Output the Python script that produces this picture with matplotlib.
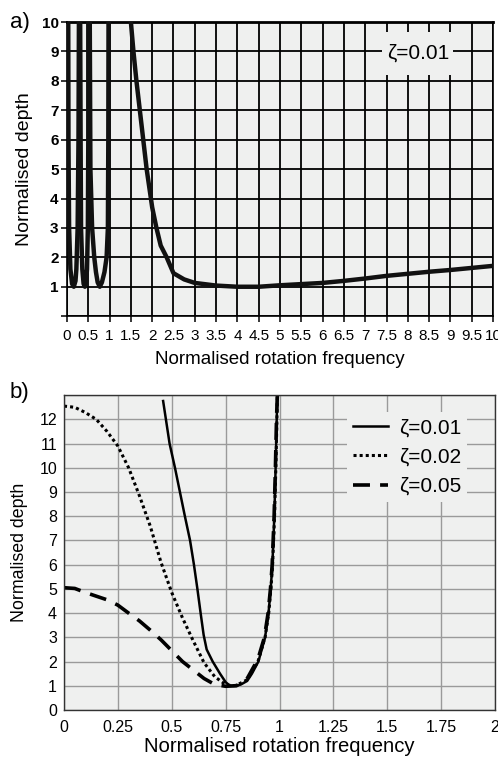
import matplotlib
matplotlib.use("Agg")
from matplotlib import pyplot as plt
from matplotlib.patches import Rectangle
import numpy as np

plt.rcParams['font.family'] = ['Liberation Sans', 'DejaVu Sans']

# ---- panel a) data, zeta = 0.01, whole range
lobe1_x = [0.03, 0.035, 0.05, 0.08, 0.12, 0.16, 0.20, 0.22, 0.25, 0.27, 0.28]
lobe1_y = [10, 6, 3, 1.6, 1.1, 1.0, 1.2, 1.6, 3, 6, 10]
lobe2_x = [0.31, 0.32, 0.33, 0.36, 0.39, 0.42, 0.45, 0.47, 0.49, 0.50, 0.50]
lobe2_y = [10, 6, 3, 1.6, 1.1, 1.0, 1.2, 1.6, 3, 6, 10]
lobe3_x = [0.535, 0.55, 0.59, 0.64, 0.68, 0.72, 0.77, 0.82, 0.88, 0.93, 0.96, 0.97, 0.975]
lobe3_y = [10, 5, 3, 2, 1.5, 1.15, 1.0, 1.15, 1.5, 2, 3, 6, 10]
main_x = [1.50, 1.56, 1.63, 1.71, 1.79, 1.87, 1.95, 2.0, 2.10, 2.20, 2.34, 2.5, 2.75,
          3.0, 3.5, 4.0, 4.5, 5.0, 5.5, 6.0, 6.5, 7.0, 7.5, 8.0, 8.5, 9.0, 9.5, 10.0]
main_y = [10, 9, 8, 7, 6, 5, 4.2, 3.7, 3, 2.4, 2, 1.46, 1.25,
          1.13, 1.04, 1.0, 1.0, 1.05, 1.09, 1.13, 1.2, 1.28, 1.37, 1.44, 1.51, 1.57, 1.64, 1.71]

xticks_a = np.arange(0, 10.01, 0.5)
xlabels_a = ['%g' % t for t in xticks_a]
yticks_a = list(range(0, 11))
ylabels_a = [''] + [str(t) for t in range(1, 11)]

# ---- panel b) data, three damping ratios
z01_x = [0.46, 0.49, 0.515, 0.538, 0.561, 0.585, 0.603, 0.619, 0.634, 0.648, 0.662, 0.69,
         0.724, 0.75, 0.77, 0.80, 0.82, 0.85, 0.872, 0.902, 0.933, 0.949, 0.959, 0.967,
         0.976, 0.982, 0.987, 0.99]
z01_y = [12.76, 11, 10, 9, 8, 7, 6, 5, 4, 3.1, 2.5, 2,
         1.5, 1.15, 1.0, 1.0, 1.05, 1.2, 1.5, 2, 3, 4, 5, 6,
         8, 10, 12, 13]
z02_x = [0.0, 0.05, 0.1, 0.15, 0.2, 0.25, 0.3, 0.35, 0.4, 0.45, 0.5, 0.55, 0.6, 0.65,
         0.7, 0.75, 0.78, 0.8, 0.85, 0.9, 0.933, 0.95, 0.96, 0.968, 0.977, 0.983, 0.988, 0.99]
z02_y = [12.55, 12.5, 12.28, 12.0, 11.5, 10.9, 10.0, 8.85, 7.6, 6.1, 4.85, 3.8, 2.85, 1.95,
         1.37, 1.05, 1.0, 1.02, 1.25, 2.0, 3, 4, 5, 6, 8, 10, 12, 13]
z05_x = [0.0, 0.05, 0.1, 0.15, 0.2, 0.25, 0.3, 0.35, 0.4, 0.45, 0.5, 0.55, 0.6, 0.65,
         0.7, 0.75, 0.8, 0.85, 0.9, 0.93, 0.947, 0.958, 0.966, 0.975, 0.981, 0.986, 0.99]
z05_y = [5.05, 5.02, 4.85, 4.7, 4.55, 4.33, 4.0, 3.68, 3.3, 2.9, 2.45, 2.0, 1.65, 1.3,
         1.05, 0.98, 1.0, 1.3, 2.1, 3, 4, 5, 6, 8, 10, 12, 13]
labels_b = ['\u03b6=0.01', '\u03b6=0.02', '\u03b6=0.05']

bg = '#eff0ef'

fig = plt.figure(figsize=(4.98, 7.60), dpi=100)

# panel a
ax1 = fig.add_axes([0.1345, 0.584, 0.8555, 0.387])
ax1.set_facecolor(bg)
for lx, ly in [(lobe1_x, lobe1_y), (lobe2_x, lobe2_y), (lobe3_x, lobe3_y), (main_x, main_y)]:
    ax1.plot(lx, ly, color='#111111', lw=3.2, solid_capstyle='round', zorder=3)
ax1.set_xlim(0, 10)
ax1.set_ylim(0, 10)
ax1.set_xticks(xticks_a)
ax1.set_xticklabels(xlabels_a, fontsize=11)
ax1.set_yticks(yticks_a)
ax1.set_yticklabels(ylabels_a, fontsize=11, fontweight='bold')
ax1.grid(True, color='black', lw=1.3)
ax1.tick_params(direction='out', length=4, width=1.1, pad=2)
ax1.tick_params(axis='x', pad=5)
for s in ax1.spines.values():
    s.set_color('black')
    s.set_linewidth(1.2)
ax1.spines['top'].set_linewidth(2)
ax1.set_xlabel('Normalised rotation frequency', fontsize=13.5, labelpad=6)
ax1.set_ylabel('Normalised depth', fontsize=14, labelpad=6)
# background patch behind the annotation, hiding the grid
ax1.add_patch(Rectangle((0.74, 0.82), 0.166, 0.146, transform=ax1.transAxes,
                        facecolor=bg, edgecolor='none', zorder=4))
ax1.text(8.25, 8.95, '\u03b6=0.01', fontsize=15, ha='center', va='center', zorder=5)
fig.text(0.04, 0.971, 'a)', fontsize=16, ha='center', va='center')

# panel b
ax2 = fig.add_axes([0.1285, 0.0658, 0.8655, 0.4142])
ax2.set_facecolor(bg)
ax2.plot(z01_x, z01_y, color='black', lw=1.8, label=labels_b[0])
ax2.plot(z02_x, z02_y, color='black', lw=2.2, linestyle=(0, (1, 1)), label=labels_b[1])
ax2.plot(z05_x, z05_y, color='black', lw=2.6, linestyle=(0, (4.7, 2.8)), label=labels_b[2])
ax2.set_xlim(0, 2)
ax2.set_ylim(0, 13)
ax2.set_xticks([0, 0.25, 0.5, 0.75, 1, 1.25, 1.5, 1.75, 2])
ax2.set_xticklabels(['0', '0.25', '0.5', '0.75', '1', '1.25', '1.5', '1.75', '2'], fontsize=11.5)
ax2.set_yticks(range(0, 14))
ax2.set_yticklabels([str(t) for t in range(0, 13)] + [''], fontsize=11.5)
ax2.grid(True, color='#9a9a9a', lw=1.0)
ax2.set_axisbelow(True)
ax2.tick_params(length=0, pad=5)
ax2.tick_params(axis='x', pad=7)
for s in ax2.spines.values():
    s.set_color('#333333')
    s.set_linewidth(1.0)
ax2.set_xlabel('Normalised rotation frequency', fontsize=14.6, labelpad=2)
ax2.set_ylabel('Normalised depth', fontsize=12.8, labelpad=8)
leg = ax2.legend(loc='upper right', bbox_to_anchor=(0.96, 0.98), fontsize=15, frameon=True,
                 handlelength=1.7, handletextpad=0.5, labelspacing=0.5, borderpad=0.3)
leg.get_frame().set_facecolor(bg)
leg.get_frame().set_edgecolor('none')
leg.get_frame().set_alpha(1)
fig.text(0.04, 0.483, 'b)', fontsize=16, ha='center', va='center')

fig.savefig('out.png', dpi=100)
